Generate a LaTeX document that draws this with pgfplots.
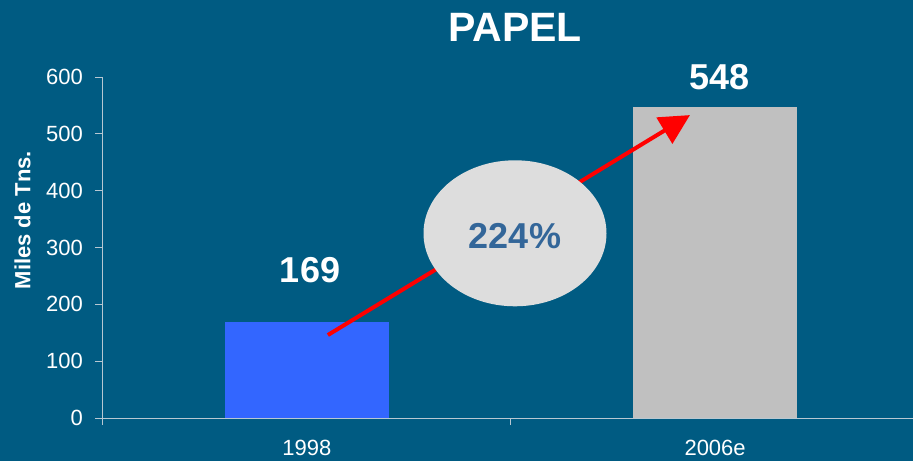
\documentclass[border=0pt]{standalone}
\usepackage{pgfplots}
\pgfplotsset{compat=1.18}
\usepackage{fontspec}
\setmainfont{Liberation Sans}
\usetikzlibrary{arrows.meta}
\definecolor{bg}{HTML}{005B82}
\definecolor{barblue}{HTML}{3366FF}
\definecolor{bargray}{HTML}{C0C0C0}
\definecolor{ellcol}{HTML}{DDDDDD}
\definecolor{pcttext}{HTML}{336699}
\definecolor{axcol}{HTML}{B8C8D2}
\begin{document}
\begin{tikzpicture}
\path[use as bounding box, fill=bg] (-102pt,-43pt) rectangle (811pt,418pt);
\begin{axis}[
  at={(0pt,0pt)}, anchor=south west,
  scale only axis, width=811pt, height=341pt,
  xmin=0, xmax=2, ymin=0, ymax=600,
  clip=false,
  axis lines*=left,
  axis line style={draw=axcol, line width=0.8pt},
  every tick/.style={draw=axcol, line width=0.8pt},
  tick align=outside,
  major tick length=7pt, minor tick length=7pt,
  ytick={0,100,...,600},
  xtick={0.505,1.512}, xticklabels={1998,2006e},
  major x tick style={draw=none},
  minor xtick={0,1.006,2},
  /pgf/number format/assume math mode=true,
  ticklabel style={font=\fontsize{22}{22}\selectfont, text=white},
  yticklabel style={anchor=east, inner sep=0pt, xshift=-12pt},
  xticklabel style={anchor=north, inner sep=0pt, yshift=-15pt},
  ylabel={Miles de Tns.},
  ylabel style={at={(axis description cs:-0.0981,0.58)}, anchor=center, font=\bfseries\fontsize{22}{22}\selectfont, text=white},
  title={PAPEL},
  title style={at={(axis description cs:0.5093,1.129)}, anchor=center, font=\bfseries\fontsize{41}{41}\selectfont, text=white},
]
\addplot[ybar, bar width=164pt, fill=barblue, draw=none, bar shift=0pt] coordinates {(0.505,169)};
\addplot[ybar, bar width=164pt, fill=bargray, draw=none, bar shift=0pt] coordinates {(1.512,548)};
\draw[red, line width=4pt, -{Triangle[length=30pt,width=30pt]}] (axis cs:0.557,146) -- (axis cs:1.450,533);
\fill[ellcol] (axis cs:1.0185,325) ellipse [x radius=91.5pt, y radius=73pt];
\node[font=\bfseries\fontsize{36}{36}\selectfont, text=pcttext] at (axis cs:1.0185,320) {224\%};
\node[font=\bfseries\fontsize{36}{36}\selectfont, text=white] at (axis cs:0.513,260) {169};
\node[font=\bfseries\fontsize{36}{36}\selectfont, text=white] at (axis cs:1.524,599) {548};
\end{axis}
\end{tikzpicture}
\end{document}
